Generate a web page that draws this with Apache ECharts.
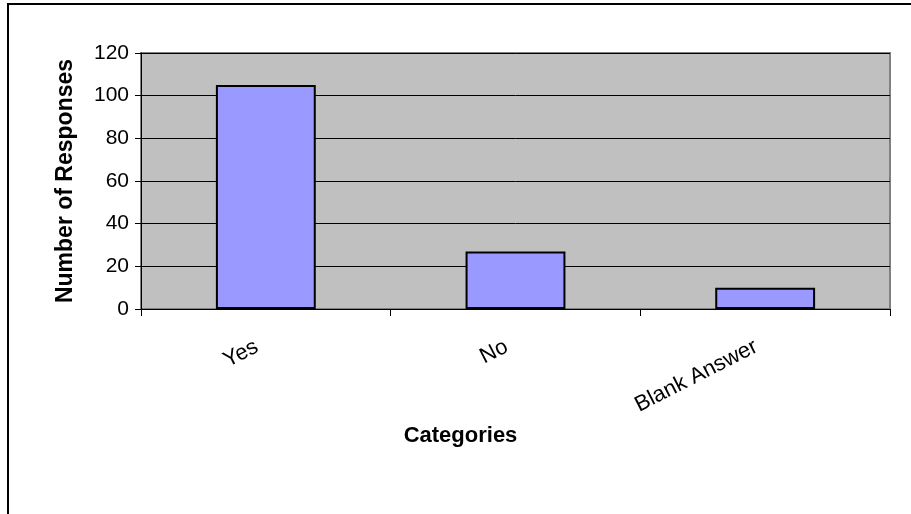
<!DOCTYPE html>
<html>
<head>
<meta charset="utf-8">
<script src="https://cdn.jsdelivr.net/npm/echarts@6/dist/echarts.min.js"></script>
<style>
html,body{margin:0;padding:0;background:#fff;}
#chart{width:911px;height:514px;}
</style>
</head>
<body>
<div id="chart"></div>
<script>
var categories = ['Yes', 'No', 'Blank Answer'];
var responses = [105, 27, 10];
var yTicks = [0, 20, 40, 60, 80, 100, 120];
var xTitle = 'Categories';
var yTitle = 'Number of Responses';

var chart = echarts.init(document.getElementById('chart'), null, {renderer: 'canvas'});
var font = '"Liberation Sans", Arial, sans-serif';
chart.setOption({
  animation: false,
  backgroundColor: '#ffffff',
  graphic: [{
    type: 'rect',
    shape: {x: 8, y: 4, width: 1000, height: 1000},
    style: {fill: 'none', stroke: '#000', lineWidth: 2},
    silent: true
  }],
  grid: {
    left: 141, right: 21, top: 53, bottom: 205,
    show: true,
    backgroundColor: '#C0C0C0',
    borderColor: '#808080',
    borderWidth: 2
  },
  xAxis: {
    type: 'category',
    data: categories,
    name: xTitle,
    nameLocation: 'middle',
    nameGap: 116,
    nameMoveOverlap: false,
    nameTextStyle: {fontFamily: font, fontSize: 22, fontWeight: 'bold', color: '#000', padding: [0, 110, 0, 0]},
    axisLine: {show: true, lineStyle: {color: '#000', width: 1}},
    axisTick: {show: true, length: 7, lineStyle: {color: '#000'}},
    axisLabel: {rotate: 27, margin: 32, padding: [0, 10, 0, 0], fontFamily: font, fontSize: 22, color: '#000', interval: 0},
    splitLine: {show: false}
  },
  yAxis: {
    type: 'value',
    min: yTicks[0],
    max: yTicks[yTicks.length - 1],
    interval: yTicks[1] - yTicks[0],
    name: yTitle,
    nameLocation: 'middle',
    nameGap: 64,
    nameTextStyle: {fontFamily: font, fontSize: 23, fontWeight: 'bold', color: '#000'},
    axisLine: {show: true, lineStyle: {color: '#000', width: 1}},
    axisTick: {show: true, length: 6, lineStyle: {color: '#000'}},
    axisLabel: {margin: 12, fontFamily: font, fontSize: 21, color: '#000'},
    splitLine: {show: true, lineStyle: {color: '#000', width: 1}}
  },
  series: [{
    type: 'bar',
    data: responses,
    barWidth: '40%',
    itemStyle: {color: '#9999FF', borderColor: '#000', borderWidth: 2}
  }]
});
</script>
</body>
</html>
